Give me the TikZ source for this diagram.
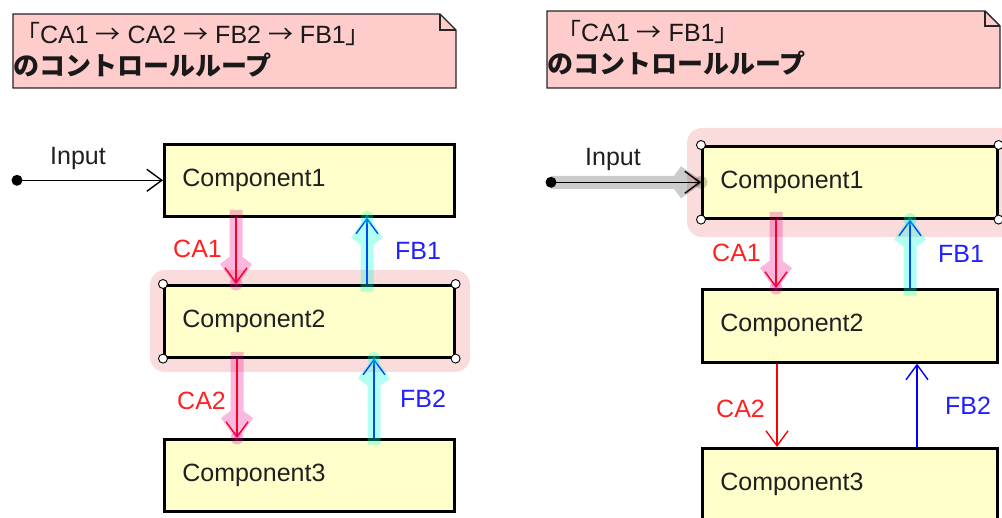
\documentclass[tikz,border=0pt]{standalone}
\usepackage{fontspec}
\setmainfont{Liberation Sans}
\newfontfamily\cjk{Noto Sans CJK JP}
\usetikzlibrary{arrows.meta}

\definecolor{notefill}{HTML}{FFCCCC}
\definecolor{compfill}{HTML}{FFFFCC}
\definecolor{selfill}{HTML}{FADCDC}
\definecolor{calabel}{HTML}{FF2020}
\definecolor{fblabel}{HTML}{2020FF}
\definecolor{cyanglow}{rgb}{0,1,0.85}

\tikzset{
  note/.style={draw=black!85, line width=1.4pt, fill=notefill, line join=miter},
  notetext/.style={anchor=base west, inner sep=0pt, text=black!90},
  notetitle/.style={notetext, font=\cjk\bfseries\fontsize{26}{30}\selectfont},
  comp/.style={draw=black, line width=2.6pt, fill=compfill, anchor=north west,
    text width=#1, align=left, inner xsep=18pt, inner ysep=0pt,
    minimum height=72pt, text=black!88},
  selbox/.style={fill=selfill, rounded corners=15pt},
  handle/.style={circle, draw=black, line width=0.9pt, fill=white,
    inner sep=0pt, minimum size=9pt},
  barb/.style={-{Straight Barb[length=15pt,width=22pt]}},
  caarrow/.style={barb, draw=red, line width=1.4pt},
  fbarrow/.style={barb, draw=blue, line width=1.4pt},
  inarrow/.style={barb, draw=black, line width=1.4pt},
  % translucent highlight behind an arrow: shaft, wide head, blob at the tip
  pics/glowarrow/.style={code={
    \fill[pic actions] (-6.5,-#1) -- (6.5,-#1) -- (6.5,-27) -- (16,-20)
      -- (0,3) -- (-16,-20) -- (-6.5,-27) -- cycle;
    \fill[pic actions] (0,0) circle (6.5);
  }},
  glowca/.style={fill=magenta, opacity=0.28},
  glowfb/.style={fill=cyanglow, opacity=0.3},
  glowin/.style={fill=black, opacity=0.2},
  calbl/.style={anchor=base west, inner sep=0pt, text=calabel},
  fblbl/.style={anchor=base west, inner sep=0pt, text=fblabel},
  inlbl/.style={anchor=base west, inner sep=0pt, text=black!88},
  startdot/.style={circle, fill=black, inner sep=0pt, minimum size=11pt},
}

\newcommand{\arr}{{\cjk →}}

\begin{document}
\begin{tikzpicture}[x=1pt, y=-1pt, font=\fontsize{25}{30}\selectfont]
\clip (0,0) rectangle (1002,518);

% ---------- left panel ----------
\draw[note] (13,14) -- (440,14) -- (456,30) -- (456,88) -- (13,88) -- cycle;
\draw[note, fill=none] (440,14) -- (440,30) -- (456,30);
\node[notetext] (lt1) at (15,44) {{\cjk 「}CA1 \arr\ CA2 \arr\ FB2 \arr\ FB1{\cjk 」}};
\node[notetitle] (lt2) at (13,76) {のコントロールループ};

\fill[selbox] (150,270) rectangle (470,372);

\node[comp=254pt] (c1) at (163,143) {Component1};
\node[comp=254pt] (c2) at (163,284) {Component2};
\node[comp=254pt] (c3) at (163,438) {Component3};

\foreach \a in {north west,north east,south west,south east}
  \node[handle] at (c2.\a) {};

\node[startdot] (s1) at (c1.west -| 17,0) {};
\draw[inarrow] (s1.center) -- (c1.west);
\node[inlbl] (in1) at (50,165) {Input};

\draw[caarrow] (c1.south -| 236,0) -- (c2.north -| 236,0);
\draw[fbarrow] (c2.north -| 367,0) -- (c1.south -| 367,0);
\draw[caarrow] (c2.south -| 237,0) -- (c3.north -| 237,0);
\draw[fbarrow] (c3.north -| 374,0) -- (c2.south -| 374,0);

\pic[glowca] at (c2.north -| 236,0) {glowarrow=74};
\pic[glowfb, rotate=180] at (c1.south -| 367,0) {glowarrow=74};
\pic[glowca] at (c3.north -| 237,0) {glowarrow=86};
\pic[glowfb, rotate=180] at (c2.south -| 374,0) {glowarrow=86};

\node[calbl] (la1) at (173,258) {CA1};
\node[fblbl] (lf1) at (395,260) {FB1};
\node[calbl] (la2) at (177,410) {CA2};
\node[fblbl] (lf2) at (400,408) {FB2};

% ---------- right panel ----------
\draw[note] (547,11) -- (985,11) -- (1000,26) -- (1000,88) -- (547,88) -- cycle;
\draw[note, fill=none] (985,11) -- (985,26) -- (1000,26);
\node[notetext] (rt1) at (556,42) {{\cjk 「}CA1 \arr\ FB1{\cjk 」}};
\node[notetitle] (rt2) at (547,74) {のコントロールループ};

\fill[selbox] (687,128) rectangle (1030,237);

\node[comp=259pt] (d1) at (701,145) {Component1};
\node[comp=259pt, minimum height=73pt] (d2) at (701,288) {Component2};
\node[comp=259pt] (d3) at (701,447) {Component3};

\foreach \a in {north west,north east,south west,south east}
  \node[handle] at (d1.\a) {};

\node[startdot] (s2) at (d1.west -| 551,0) {};
\draw[inarrow] (s2.center) -- (d1.west);
\pic[glowin, rotate=90] at (d1.west) {glowarrow=150};
\node[inlbl] (in2) at (585,166) {Input};

\draw[caarrow] (d1.south -| 776,0) -- (d2.north -| 776,0);
\draw[fbarrow] (d2.north -| 910,0) -- (d1.south -| 910,0);
\draw[caarrow] (d2.south -| 777,0) -- (d3.north -| 777,0);
\draw[fbarrow] (d3.north -| 917,0) -- (d2.south -| 917,0);

\pic[glowca] at (d2.north -| 776,0) {glowarrow=76};
\pic[glowfb, rotate=180] at (d1.south -| 910,0) {glowarrow=76};

\node[calbl] (ra1) at (712,262) {CA1};
\node[fblbl] (rf1) at (938,263) {FB1};
\node[calbl] (ra2) at (716,418) {CA2};
\node[fblbl] (rf2) at (945,415) {FB2};
\end{tikzpicture}
\end{document}
